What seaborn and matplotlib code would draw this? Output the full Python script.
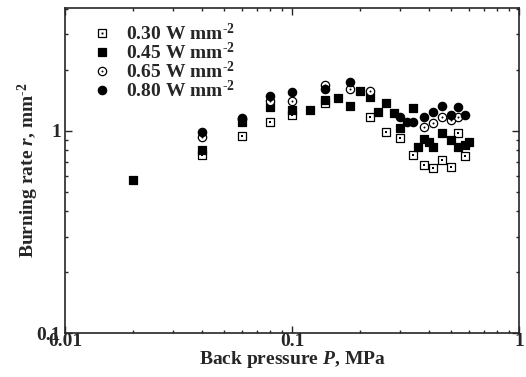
import matplotlib
matplotlib.use("Agg")
import matplotlib.pyplot as plt
import seaborn as sns
import numpy as np
import pandas as pd
from matplotlib.lines import Line2D
from matplotlib.legend_handler import HandlerTuple
from matplotlib.ticker import LogLocator, FixedLocator, FuncFormatter, NullFormatter

# ---- data ----
p_030 = [0.04, 0.06, 0.08, 0.10, 0.14, 0.22, 0.26, 0.30, 0.34, 0.38, 0.42, 0.46, 0.50, 0.54, 0.58]
r_030 = [0.755, 0.948, 1.10, 1.20, 1.38, 1.177, 0.99, 0.92, 0.76, 0.679, 0.654, 0.718, 0.666, 0.98, 0.752]

p_045 = [0.02, 0.04, 0.06, 0.08, 0.10, 0.12, 0.14, 0.16, 0.18, 0.20, 0.22, 0.24, 0.26, 0.28, 0.30,
         0.34, 0.36, 0.38, 0.40, 0.42, 0.46, 0.50, 0.54, 0.58, 0.60]
r_045 = [0.572, 0.805, 1.11, 1.31, 1.27, 1.27, 1.42, 1.46, 1.33, 1.58, 1.47, 1.24, 1.37, 1.22, 1.03,
         1.295, 0.83, 0.91, 0.885, 0.836, 0.974, 0.902, 0.83, 0.852, 0.885]

p_065 = [0.04, 0.06, 0.08, 0.10, 0.14, 0.18, 0.22, 0.38, 0.42, 0.46, 0.50, 0.54]
r_065 = [0.93, 1.14, 1.40, 1.41, 1.69, 1.61, 1.58, 1.05, 1.09, 1.177, 1.13, 1.17]

p_080 = [0.04, 0.06, 0.08, 0.10, 0.14, 0.18, 0.30, 0.32, 0.34, 0.38, 0.42, 0.46, 0.50, 0.54, 0.58]
r_080 = [0.99, 1.156, 1.49, 1.55, 1.61, 1.75, 1.17, 1.11, 1.11, 1.169, 1.238, 1.32, 1.20, 1.31, 1.20]

labels = [r"0.30 W mm$^{\text{-}2}$", r"0.45 W mm$^{\text{-}2}$",
          r"0.65 W mm$^{\text{-}2}$", r"0.80 W mm$^{\text{-}2}$"]
x_ticks = [0.01, 0.1, 1]
x_ticklabels = ["0.01", "0.1", "1"]
y_ticks = [0.1, 1]
y_ticklabels = ["0.1", "1"]

# ---- style ----
sns.set_theme(style="ticks")
plt.rcParams["font.family"] = ["Liberation Serif", "DejaVu Serif"]
plt.rcParams["font.weight"] = "bold"
plt.rcParams["mathtext.fontset"] = "custom"
plt.rcParams["mathtext.rm"] = "Liberation Serif:bold"
plt.rcParams["mathtext.it"] = "Liberation Serif:italic:bold"
plt.rcParams["mathtext.bf"] = "Liberation Serif:bold"
plt.rcParams["axes.linewidth"] = 1.2

FS_TICK = 14
FS_LAB = 14
FS_LEG = 14
fig = plt.figure(figsize=(5.26, 3.77), dpi=100)
ax = fig.add_axes([65 / 526, 1 - 333 / 377, (519 - 65) / 526, (333 - 8) / 377])

MS = 6.0       # marker size in points
S = MS ** 2
LW = 0.9

d030 = pd.DataFrame({"P": p_030, "r": r_030})
d045 = pd.DataFrame({"P": p_045, "r": r_045})
d065 = pd.DataFrame({"P": p_065, "r": r_065})
d080 = pd.DataFrame({"P": p_080, "r": r_080})

sns.scatterplot(data=d030, x="P", y="r", marker="s", s=S, color="white",
                edgecolor="black", linewidth=LW, ax=ax, zorder=3)
sns.scatterplot(data=d030, x="P", y="r", marker="s", s=2.0, color="black",
                edgecolor="black", linewidth=0, ax=ax, zorder=3)
sns.scatterplot(data=d045, x="P", y="r", marker="s", s=S, color="black",
                edgecolor="black", linewidth=LW, ax=ax, zorder=4)
sns.scatterplot(data=d065, x="P", y="r", marker="o", s=S, color="white",
                edgecolor="black", linewidth=LW, ax=ax, zorder=5)
sns.scatterplot(data=d065, x="P", y="r", marker="o", s=2.0, color="black",
                edgecolor="black", linewidth=0, ax=ax, zorder=5)
sns.scatterplot(data=d080, x="P", y="r", marker="o", s=S, color="black",
                edgecolor="black", linewidth=LW, ax=ax, zorder=6)

ax.set_xscale("log")
ax.set_yscale("log")
ax.set_xlim(0.01, 1)
ax.set_ylim(0.1, 4.05)

ax.xaxis.set_major_locator(FixedLocator(x_ticks))
ax.xaxis.set_major_formatter(FuncFormatter(lambda v, pos: dict(zip(x_ticks, x_ticklabels)).get(v, "")))
ax.xaxis.set_minor_locator(LogLocator(base=10, subs=np.arange(2, 10)))
ax.xaxis.set_minor_formatter(NullFormatter())
ax.yaxis.set_major_locator(FixedLocator(y_ticks))
ax.yaxis.set_major_formatter(FuncFormatter(lambda v, pos: dict(zip(y_ticks, y_ticklabels)).get(v, "")))
ax.yaxis.set_minor_locator(LogLocator(base=10, subs=np.arange(2, 10)))
ax.yaxis.set_minor_formatter(NullFormatter())

ax.tick_params(which="both", direction="in", top=True, right=True, width=1.0,
               labelsize=FS_TICK)
ax.tick_params(axis="x", pad=0)
ax.tick_params(axis="y", pad=3)
ax.tick_params(which="major", length=5)
ax.tick_params(which="minor", length=2.5)
for lab in ax.get_xticklabels() + ax.get_yticklabels():
    lab.set_fontweight("bold")
ax.get_yticklabels()[0].set_verticalalignment("center_baseline")

ax.set_xlabel(r"Back pressure $P$, MPa", fontsize=FS_LAB, fontweight="bold", labelpad=-1)
ax.set_ylabel(r"Burning rate $r$, mm$^{\text{-}2}$", fontsize=FS_LAB, fontweight="bold", labelpad=-3)

# legend with dot-centred open markers
def mk(marker, face, size=MS):
    return Line2D([], [], linestyle="none", marker=marker, markersize=size,
                  markerfacecolor=face, markeredgecolor="black", markeredgewidth=LW)
dot_s = Line2D([], [], linestyle="none", marker="s", markersize=1.4,
               markerfacecolor="black", markeredgecolor="black", markeredgewidth=0)
dot_o = Line2D([], [], linestyle="none", marker="o", markersize=1.4,
               markerfacecolor="black", markeredgecolor="black", markeredgewidth=0)
handles = [(mk("s", "white"), dot_s), mk("s", "black"), (mk("o", "white"), dot_o), mk("o", "black")]
leg = ax.legend(handles, labels, loc="upper left", bbox_to_anchor=(0.035, 0.99),
                frameon=False, fontsize=FS_LEG, handlelength=1.0, handletextpad=0.7,
                labelspacing=-0.12, borderaxespad=0.2,
                handler_map={tuple: HandlerTuple(ndivide=1)})
for t in leg.get_texts():
    t.set_fontweight("bold")

fig.savefig("out.png", dpi=100)
